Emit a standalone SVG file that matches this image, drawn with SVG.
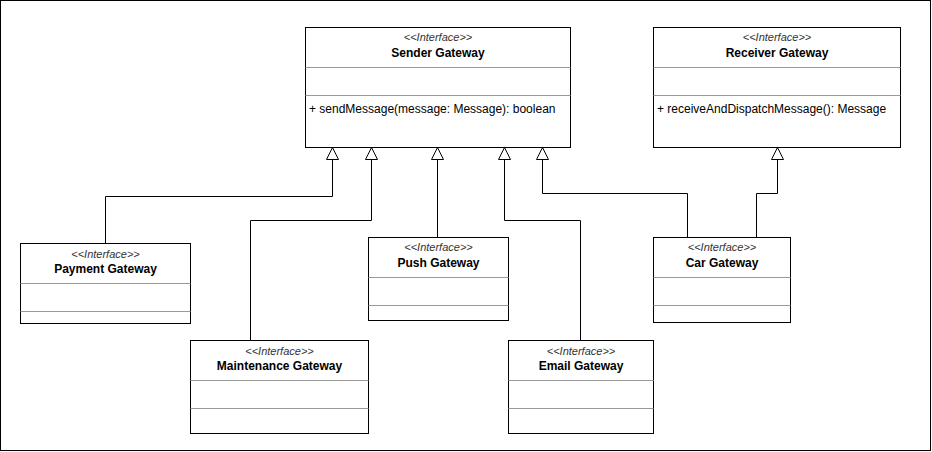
<svg xmlns="http://www.w3.org/2000/svg" width="932" height="452" viewBox="0 0 932 452">
<defs>
<style>
.box{fill:#fff;stroke:#000;stroke-width:1}
.div{stroke:#999;stroke-width:1}
.st{font-family:"Liberation Sans",Arial,sans-serif;font-size:11px;font-style:italic;fill:#333;text-anchor:middle}
.nm{font-family:"Liberation Sans",Arial,sans-serif;font-size:12px;font-weight:bold;fill:#000;text-anchor:middle}
.op{font-family:"Liberation Sans",Arial,sans-serif;font-size:12px;fill:#000}
.edge{fill:none;stroke:#000;stroke-width:1}
</style>
<marker id="tri" viewBox="0 0 14 14" refX="13" refY="7" markerWidth="14" markerHeight="14" markerUnits="userSpaceOnUse" orient="auto">
<path d="M1,1 L13,7 L1,13 Z" fill="#fff" stroke="#000" stroke-width="1"/>
</marker>
</defs>
<rect x="0.5" y="0.5" width="930" height="450" fill="#fff" stroke="#000"/>
<g id="connectors">
<path class="edge" d="M105.5,243 V196.5 H332.5 V147.5" marker-end="url(#tri)"/>
<path class="edge" d="M250.5,340 V220.5 H371.5 V147.5" marker-end="url(#tri)"/>
<path class="edge" d="M437.5,238 V147.5" marker-end="url(#tri)"/>
<path class="edge" d="M580.5,340 V220.5 H504.5 V147.5" marker-end="url(#tri)"/>
<path class="edge" d="M687.5,238 V193.5 H542.5 V147.5" marker-end="url(#tri)"/>
<path class="edge" d="M756.5,238 V193.5 H777.5 V147.5" marker-end="url(#tri)"/>
</g>
<g id="sender">
<rect class="box" x="305.5" y="27.5" width="265" height="120"/>
<line class="div" x1="305.5" y1="67.5" x2="570.5" y2="67.5"/>
<line class="div" x1="305.5" y1="95.5" x2="570.5" y2="95.5"/>
<text class="st" x="438" y="41">&lt;&lt;Interface&gt;&gt;</text>
<text class="nm" x="438" y="57">Sender Gateway</text>
<text class="op" x="309" y="113">+ sendMessage(message: Message): boolean</text>
</g>
<g id="receiver">
<rect class="box" x="653.5" y="27.5" width="247" height="120"/>
<line class="div" x1="653.5" y1="67.5" x2="900.5" y2="67.5"/>
<line class="div" x1="653.5" y1="95.5" x2="900.5" y2="95.5"/>
<text class="st" x="777" y="41">&lt;&lt;Interface&gt;&gt;</text>
<text class="nm" x="777" y="57">Receiver Gateway</text>
<text class="op" x="657" y="113">+ receiveAndDispatchMessage(): Message</text>
</g>
<g id="payment">
<rect class="box" x="20.5" y="243.5" width="170" height="80"/>
<line class="div" x1="20.5" y1="283.5" x2="190.5" y2="283.5"/>
<line class="div" x1="20.5" y1="311.5" x2="190.5" y2="311.5"/>
<text class="st" x="105.5" y="258">&lt;&lt;Interface&gt;&gt;</text>
<text class="nm" x="105.5" y="273">Payment Gateway</text>
</g>
<g id="push">
<rect class="box" x="368.5" y="237.5" width="140" height="83"/>
<line class="div" x1="368.5" y1="277.5" x2="508.5" y2="277.5"/>
<line class="div" x1="368.5" y1="305.5" x2="508.5" y2="305.5"/>
<text class="st" x="438.5" y="251">&lt;&lt;Interface&gt;&gt;</text>
<text class="nm" x="438.5" y="267">Push Gateway</text>
</g>
<g id="car">
<rect class="box" x="653.5" y="237.5" width="137" height="85"/>
<line class="div" x1="653.5" y1="277.5" x2="790.5" y2="277.5"/>
<line class="div" x1="653.5" y1="305.5" x2="790.5" y2="305.5"/>
<text class="st" x="722" y="251">&lt;&lt;Interface&gt;&gt;</text>
<text class="nm" x="722" y="267">Car Gateway</text>
</g>
<g id="maintenance">
<rect class="box" x="190.5" y="340.5" width="178" height="93"/>
<line class="div" x1="190.5" y1="380.5" x2="368.5" y2="380.5"/>
<line class="div" x1="190.5" y1="408.5" x2="368.5" y2="408.5"/>
<text class="st" x="279.5" y="355">&lt;&lt;Interface&gt;&gt;</text>
<text class="nm" x="279.5" y="370">Maintenance Gateway</text>
</g>
<g id="email">
<rect class="box" x="508.5" y="340.5" width="145" height="93"/>
<line class="div" x1="508.5" y1="380.5" x2="653.5" y2="380.5"/>
<line class="div" x1="508.5" y1="408.5" x2="653.5" y2="408.5"/>
<text class="st" x="581" y="355">&lt;&lt;Interface&gt;&gt;</text>
<text class="nm" x="581" y="370">Email Gateway</text>
</g>
</svg>
